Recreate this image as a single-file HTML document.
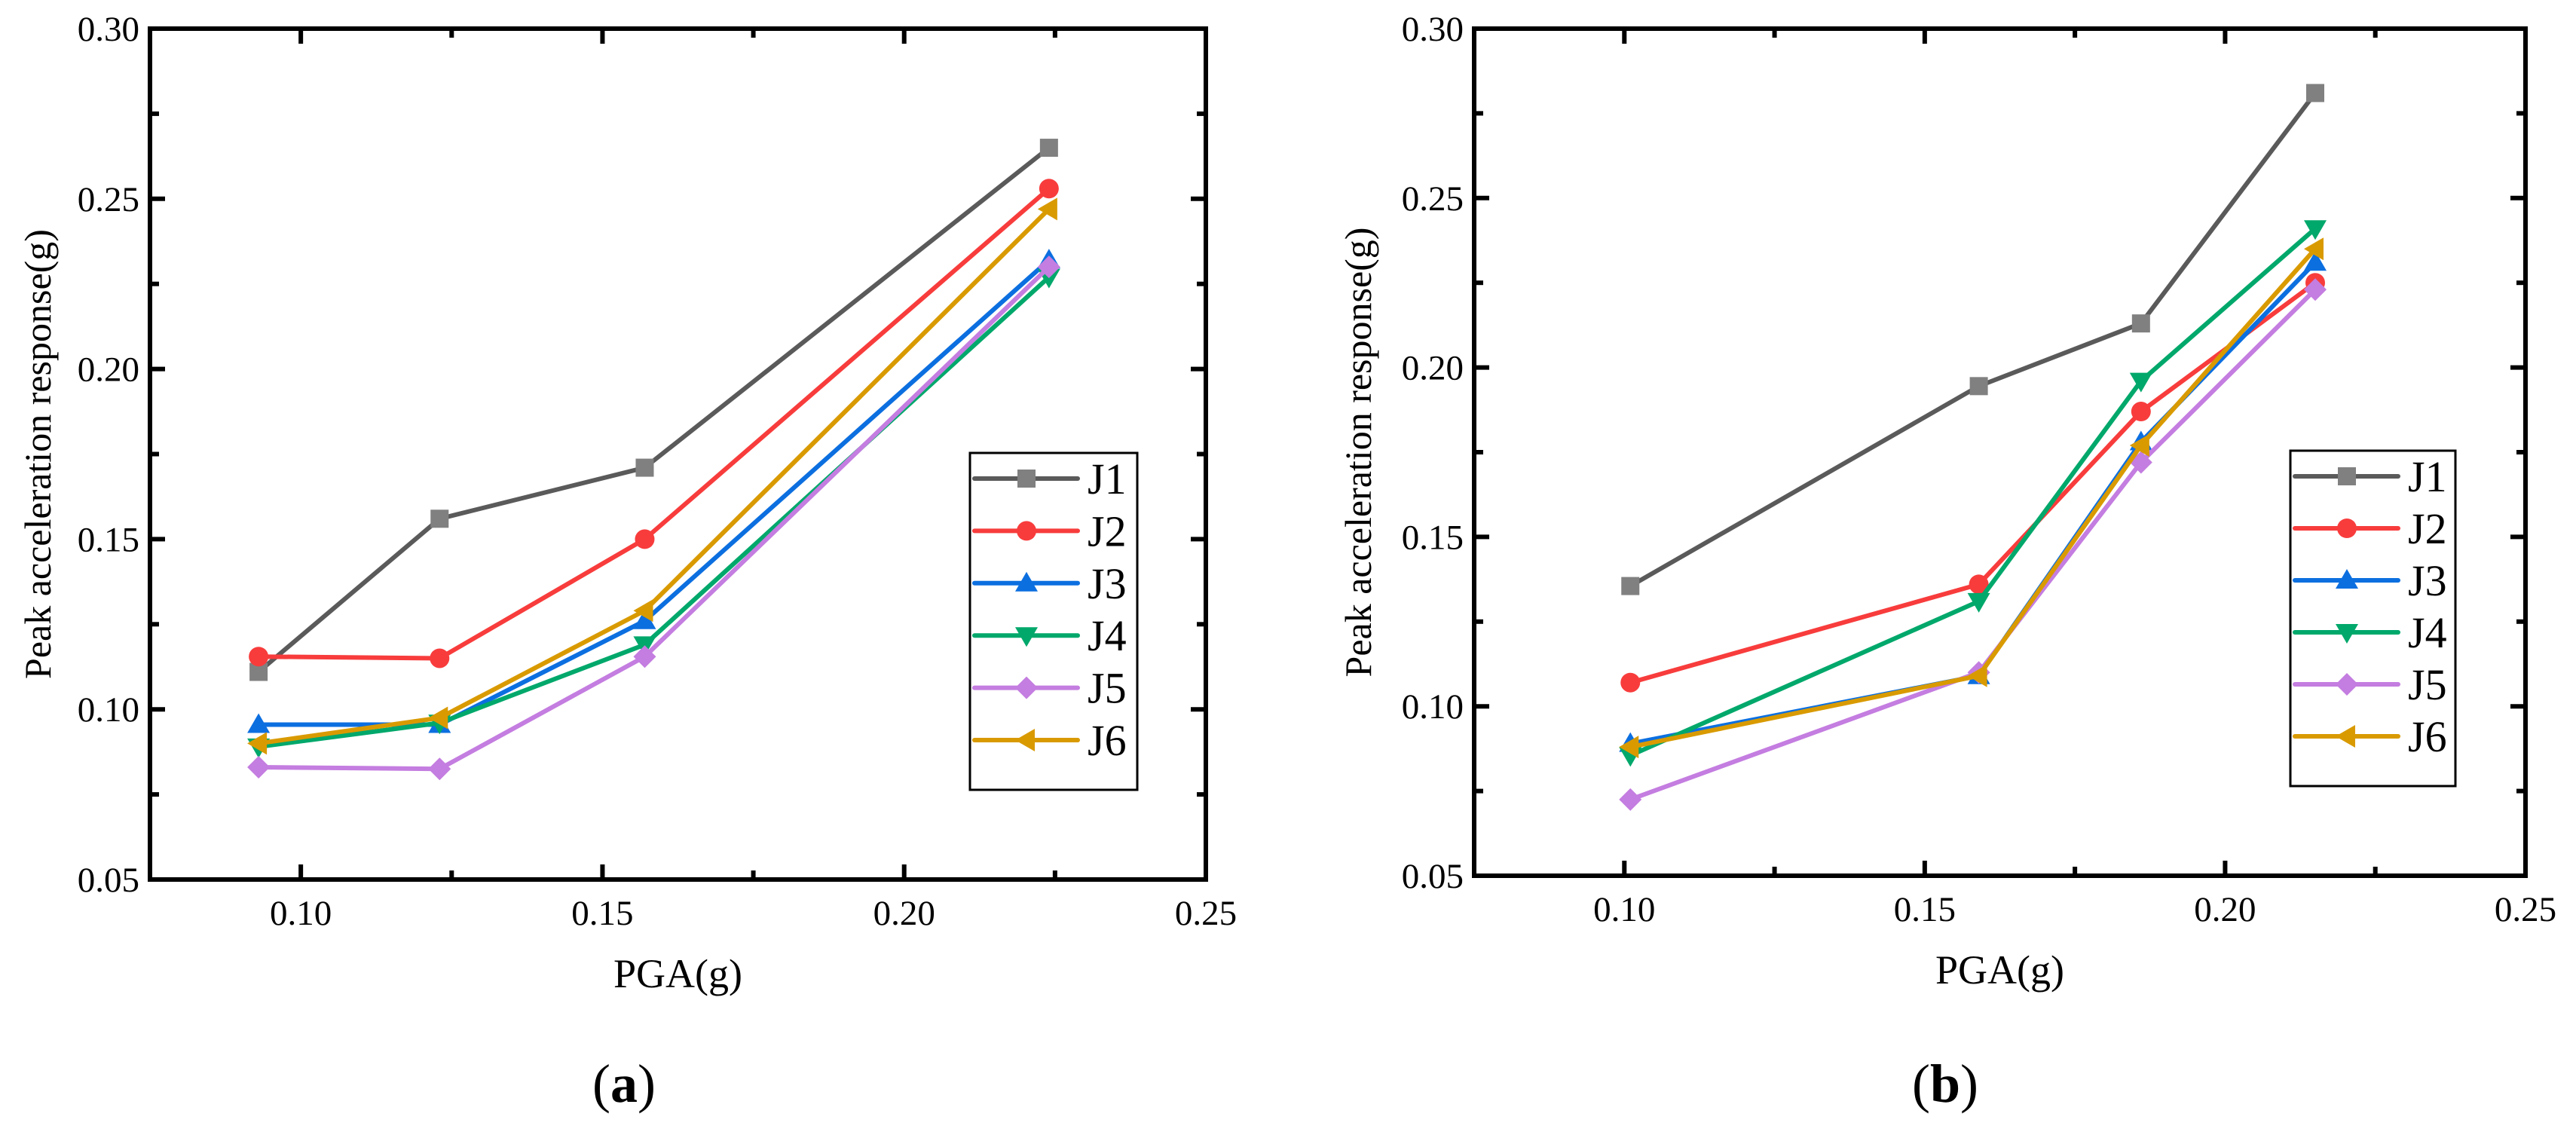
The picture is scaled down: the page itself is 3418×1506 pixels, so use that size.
<!DOCTYPE html>
<html><head><meta charset="utf-8"><style>
html,body{margin:0;padding:0;background:#fff;}
svg{display:block;}
text{font-family:"Liberation Serif","Times New Roman",serif;}
</style></head><body>
<svg id="fig" width="3418" height="1506" viewBox="0 0 3418 1506" xmlns="http://www.w3.org/2000/svg" font-family="Liberation Serif, Times New Roman, serif"></svg>
<script>
const seriesNames = ["J1","J2","J3","J4","J5","J6"];
const xTickLabels = ["0.10","0.15","0.20","0.25"];
const yTickLabels = ["0.05","0.10","0.15","0.20","0.25","0.30"];
const pgaA = [0.093, 0.123, 0.157, 0.224];
const aJ1 = [0.111, 0.156, 0.171, 0.265];
const aJ2 = [0.1155, 0.115, 0.150, 0.253];
const aJ3 = [0.0955, 0.0955, 0.126, 0.232];
const aJ4 = [0.089, 0.096, 0.119, 0.227];
const aJ5 = [0.083, 0.0825, 0.1155, 0.230];
const aJ6 = [0.090, 0.0975, 0.129, 0.247];
const pgaB = [0.101, 0.159, 0.186, 0.215];
const bJ1 = [0.1355, 0.1945, 0.213, 0.281];
const bJ2 = [0.107, 0.136, 0.187, 0.225];
const bJ3 = [0.089, 0.109, 0.178, 0.231];
const bJ4 = [0.0855, 0.131, 0.196, 0.241];
const bJ5 = [0.0725, 0.110, 0.172, 0.223];
const bJ6 = [0.088, 0.109, 0.177, 0.235];

const colors = ["#5a5a5a","#f83c3c","#0c6fe0","#00a86b","#c47de0","#d99a00"];
const markerColors = ["#808080","#f83c3c","#0c6fe0","#00a86b","#c47de0","#d99a00"];
const markers = ["square","circle","up","down","diamond","left"];
const FONT = "'Liberation Serif', 'Times New Roman', serif";
const NS = "http://www.w3.org/2000/svg";
const svg = document.getElementById("fig");
function mk(tag, attrs, parent){
  const e = document.createElementNS(NS, tag);
  for (const k in attrs) e.setAttribute(k, attrs[k]);
  if (tag === "text") e.setAttribute("font-family", FONT);
  (parent||svg).appendChild(e);
  return e;
}
function marker(g, type, cx, cy, col){
  const s = 13;
  let el;
  if (type==="square") el = mk("rect",{x:cx-s+1,y:cy-s+1,width:2*s-2,height:2*s-2,fill:col},g);
  else if (type==="circle") el = mk("circle",{cx:cx,cy:cy,r:s,fill:col},g);
  else {
    let p;
    if (type==="up") p=[[cx,cy-s-2],[cx+s+2,cy+s-2],[cx-s-2,cy+s-2]];
    else if (type==="down") p=[[cx,cy+s+2],[cx+s+2,cy-s+2],[cx-s-2,cy-s+2]];
    else if (type==="diamond") p=[[cx,cy-s-2],[cx+s+2,cy],[cx,cy+s+2],[cx-s-2,cy]];
    else p=[[cx-s-2,cy],[cx+s-2,cy-s-2],[cx+s-2,cy+s+2]];
    el = mk("polygon",{points:p.map(q=>q.join(",")).join(" "),fill:col},g);
  }
  return el;
}
function panel(id, L, R, T, B, xs, ys, legL, legT, legR, legB, ytitleX, xtitleY, capX){
  const g = mk("g",{});
  
  
  const xMin=0.075, xMax=0.25, yMin=0.05, yMax=0.30;
  const X = v => L + (v-xMin)/(xMax-xMin)*(R-L);
  const Y = v => B - (v-yMin)/(yMax-yMin)*(B-T);
  const tg = mk("g",{stroke:"#000","stroke-width":6},g);
  
  
  for (let i=1;i<7;i++){
    const v = 0.075 + i*0.025;
    const x = X(v); const len = (i%2===1)?20:12;
    mk("line",{x1:x,y1:B,x2:x,y2:B-len},tg); mk("line",{x1:x,y1:T,x2:x,y2:T+len},tg);
  }
  for (let i=1;i<10;i++){
    const v = 0.05 + i*0.025;
    const y = Y(v); const len = (i%2===0)?20:12;
    mk("line",{x1:L,y1:y,x2:L+len,y2:y},tg); mk("line",{x1:R,y1:y,x2:R-len,y2:y},tg);
  }
  const frame = mk("rect",{x:L,y:T,width:R-L,height:B-T,fill:"none",stroke:"#000","stroke-width":6},g);
  
  
  xTickLabels.forEach(t=>{
    const e = mk("text",{x:X(parseFloat(t)),y:B+60,"font-size":47,"text-anchor":"middle"},g);
    e.textContent = t;
    
    
  });
  yTickLabels.forEach(t=>{
    const e = mk("text",{x:L-14,y:Y(parseFloat(t))+16,"font-size":47,"text-anchor":"end"},g);
    e.textContent = t;
    
    
  });
  const yt = mk("text",{x:ytitleX,y:(T+B)/2+17,"font-size":50,"text-anchor":"middle",transform:`rotate(-90 ${ytitleX} ${(T+B)/2})`},g);
  yt.textContent = "Peak acceleration response(g)";
  
  
  const xt = mk("text",{x:(L+R)/2,y:xtitleY,"font-size":54,"text-anchor":"middle"},g);
  xt.textContent = "PGA(g)";
  
  
  ys.forEach((arr,si)=>{
    const sg = mk("g",{},g);
    
    
    const pts = arr.map((v,i)=>X(xs[i])+","+Y(v)).join(" ");
    mk("polyline",{points:pts,fill:"none",stroke:colors[si],"stroke-width":6,"stroke-linejoin":"round"},sg);
    arr.forEach((v,i)=>{
      const m = marker(sg, markers[si], X(xs[i]), Y(v), markerColors[si]);
      
      
    });
  });
  const lg = mk("g",{},g);
  
  
  mk("rect",{x:legL,y:legT,width:legR-legL,height:legB-legT,fill:"#fff",stroke:"#000","stroke-width":3},lg);
  const step = (legB-legT-100)/5;
  seriesNames.forEach((n,si)=>{
    const eg = mk("g",{},lg);
    
    
    const y = legT + 34 + si*step;
    mk("line",{x1:legL+6,y1:y,x2:legL+143,y2:y,stroke:colors[si],"stroke-width":6,"stroke-linecap":"round"},eg);
    marker(eg, markers[si], legL+75, y, markerColors[si]);
    const t = mk("text",{x:legL+156,y:y+20,"font-size":58},eg);
    t.textContent = n;
  });
  const cap = mk("text",{x:capX,y:1462,"font-size":72,"text-anchor":"middle"},g);
  cap.innerHTML = '(<tspan font-weight="bold">' + id + '</tspan>)';
  
  
}
panel("a", 199, 1600, 38, 1167, pgaA, [aJ1,aJ2,aJ3,aJ4,aJ5,aJ6], 1287, 601, 1509, 1048, 50, 1310, 828);
panel("b", 1956, 3351, 38, 1162, pgaB, [bJ1,bJ2,bJ3,bJ4,bJ5,bJ6], 3039, 598, 3258, 1043, 1802, 1305, 2581);
</script>
</body></html>
